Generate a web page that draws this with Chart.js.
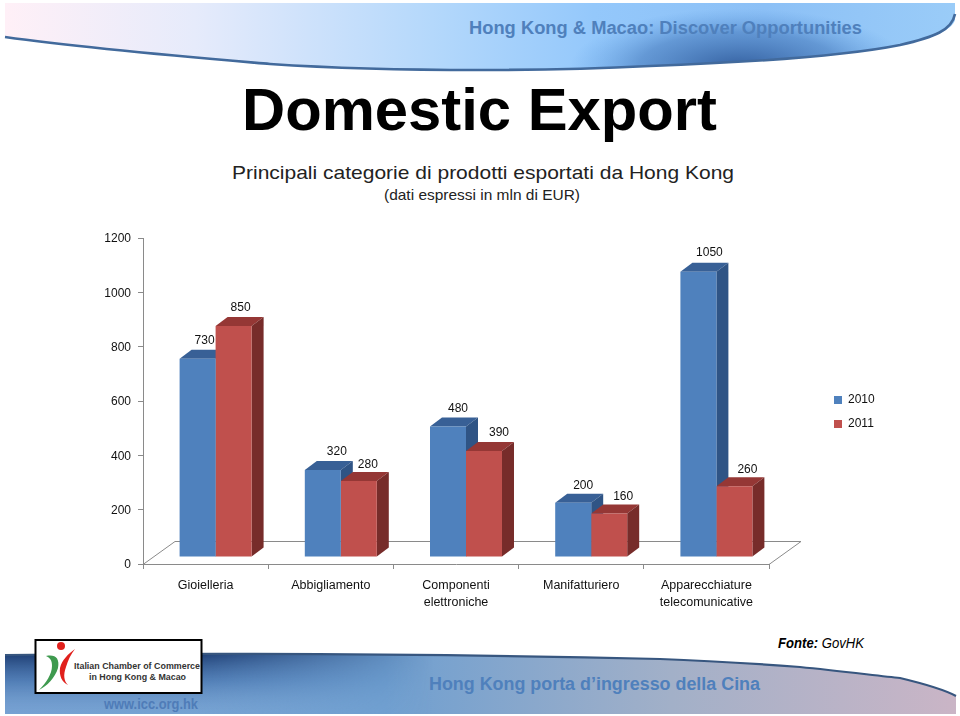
<!DOCTYPE html>
<html><head><meta charset="utf-8">
<script src="https://cdn.jsdelivr.net/npm/chart.js@4/dist/chart.umd.min.js"></script>
<style>
html,body{margin:0;padding:0;background:#fff;width:960px;height:716px;overflow:hidden}
#wrap{position:relative;width:960px;height:716px}
svg{position:absolute;left:0;top:0}
#c{position:absolute;left:0;top:0}
text{font-family:"Liberation Sans",Arial,sans-serif}
</style></head><body>
<div id="wrap">
<svg width="960" height="716" viewBox="0 0 960 716">
<defs>
<linearGradient id="hg" x1="0" x2="1" y1="0" y2="0">
<stop offset="0" stop-color="#fff0f7"/><stop offset=".2" stop-color="#e6ebfb"/><stop offset=".45" stop-color="#b4d8fb"/><stop offset=".62" stop-color="#94c8fb"/><stop offset=".8" stop-color="#8cc0f6"/><stop offset="1" stop-color="#9accf8"/>
</linearGradient>
<radialGradient id="hs" gradientUnits="userSpaceOnUse" cx="740" cy="68" r="170" gradientTransform="translate(0 44) scale(1 .35)">
<stop offset="0" stop-color="#2f5a9a" stop-opacity=".95"/><stop offset=".6" stop-color="#3f74b8" stop-opacity=".55"/><stop offset="1" stop-color="#5a9ae0" stop-opacity="0"/>
</radialGradient>
<linearGradient id="fg" x1="0" x2="1" y1="0" y2="0">
<stop offset="0" stop-color="#6f9ccf"/><stop offset=".4" stop-color="#6f9fd0"/><stop offset=".7" stop-color="#a2b0c8"/><stop offset="1" stop-color="#cab5c6"/>
</linearGradient>
<linearGradient id="fd" x1="0" x2="0" y1="0" y2="1">
<stop offset="0" stop-color="#1b3a70" stop-opacity=".95"/><stop offset=".45" stop-color="#3e6aa5" stop-opacity=".6"/><stop offset="1" stop-color="#8fb4de" stop-opacity=".25"/>
</linearGradient>
<linearGradient id="fm" x1="0" x2="1" y1="0" y2="0">
<stop offset="0" stop-color="#fff"/><stop offset=".2" stop-color="#fff"/><stop offset=".45" stop-color="#000"/>
</linearGradient>
<mask id="fmask" maskUnits="userSpaceOnUse" x="0" y="640" width="960" height="76"><rect x="5" y="640" width="951" height="76" fill="url(#fm)"/></mask>
</defs>
<path d="M5 3H955V20C952 30 935 37 900 45C850 55 760 62 650 66C590 69 530 70 480 70C400 70 330 68 270 64C200 58 90 49 5 37Z" fill="url(#hg)"/>
<path d="M5 3H955V20C952 30 935 37 900 45C850 55 760 62 650 66C590 69 530 70 480 70C400 70 330 68 270 64C200 58 90 49 5 37Z" fill="url(#hs)"/>
<path d="M5 37C90 49 200 58 270 64C330 68 400 70 480 70C530 70 590 69 650 66C760 62 850 55 900 45C935 37 952 30 955 14" fill="none" stroke="#426a9c" stroke-width="2.6"/>
<text x="469" y="34" font-size="18" font-weight="bold" fill="#4f80bc" textLength="393" lengthAdjust="spacingAndGlyphs">Hong Kong &amp; Macao: Discover Opportunities</text>

<text x="242" y="130" font-size="60" font-weight="bold" fill="#000" textLength="475" lengthAdjust="spacingAndGlyphs">Domestic Export</text>
<text x="232" y="179" font-size="19" fill="#222" textLength="502" lengthAdjust="spacingAndGlyphs">Principali categorie di prodotti esportati da Hong Kong</text>
<text x="384" y="200" font-size="14.5" fill="#222" textLength="196" lengthAdjust="spacingAndGlyphs">(dati espressi in mln di EUR)</text>

<path d="M5 655C200 653 450 654 660 659C720 661 760 664 800 667C840 671 880 676 900 678C925 684 945 690 956 696V714H5Z" fill="url(#fg)"/>
<path d="M5 655C200 653 450 654 660 659C720 661 760 664 800 667C840 671 880 676 900 678C925 684 945 690 956 696V714H5Z" fill="url(#fd)" mask="url(#fmask)"/>
<path d="M5 655C200 653 450 654 660 659C720 661 760 664 800 667C840 671 880 676 900 678C925 684 945 690 956 696" fill="none" stroke="#37567f" stroke-width="2.2"/>
<text x="429" y="690" font-size="18" font-weight="bold" fill="#4f80bc" textLength="331" lengthAdjust="spacingAndGlyphs">Hong Kong porta d’ingresso della Cina</text>
<text x="104" y="709" font-size="14" font-weight="bold" fill="#4f7cb8" textLength="94" lengthAdjust="spacingAndGlyphs">www.icc.org.hk</text>
<text x="778" y="648" font-size="14" fill="#000" font-style="italic" textLength="86" lengthAdjust="spacingAndGlyphs"><tspan font-weight="bold">Fonte:</tspan> GovHK</text>

<rect x="35.5" y="640" width="166" height="53" fill="#fff" stroke="#000" stroke-width="2"/>
<circle cx="61" cy="646" r="4" fill="#e0201c"/>
<path d="M46 656C55 654 60 658 58 668C55 678 47 686 39 690C46 683 52 674 52 666C52 660 50 658 46 656Z" fill="#3f9a4f"/>
<path d="M75 649C68 654 62 660 60 668C59 676 62 682 68 685C64 681 63 675 66 667C68 660 71 654 75 649Z" fill="#e0201c"/>
<text x="74" y="669" font-size="9.5" font-weight="bold" fill="#333" textLength="126" lengthAdjust="spacingAndGlyphs">Italian Chamber of Commerce</text>
<text x="89" y="680" font-size="9.5" font-weight="bold" fill="#333" textLength="97" lengthAdjust="spacingAndGlyphs">in Hong Kong &amp; Macao</text>
</svg>
<canvas id="c" width="960" height="716"></canvas>
</div>
<script>
const categories = ["Gioielleria","Abbigliamento",["Componenti","elettroniche"],"Manifatturiero",["Apparecchiature","telecomunicative"]];
const series2010 = [730,320,480,200,1050];
const series2011 = [850,280,390,160,260];
const yTicksStep = 200;

const COLORS = {blue:"#4f81bd",red:"#c0504d",blueTop:"#386096",blueSide:"#2f5485",redTop:"#953735",redSide:"#772c2a",axis:"#8a8a8a"};
const PLOT = {left:143,top:238,right:769,bottom:564};
const SHIFT = {x:10,y:-7};      // bars stand inside the 3-D floor
const DEPTH = {x:12,y:-9};      // 3-D extrusion
const labelNudge = [[7,7],[14,9],[10,15],[10,14],[11,13]];
const labelRise = [[18,18],[18,16],[18,18],[17,17],[19,17]];

const threeD = {
  id:"threeD",
  beforeDatasetsDraw(chart){
    const c = chart.ctx;
    // floor
    c.save();
    c.strokeStyle = COLORS.axis; c.lineWidth = 1;
    c.beginPath();
    c.moveTo(PLOT.left,PLOT.bottom+.5);
    c.lineTo(PLOT.left+32,PLOT.bottom-22.5);
    c.lineTo(PLOT.right+32,PLOT.bottom-22.5);
    c.lineTo(PLOT.right,PLOT.bottom+.5);
    c.stroke();
    c.restore();
    c.save();
    c.translate(SHIFT.x,SHIFT.y);
    [[0,COLORS.blueTop,COLORS.blueSide],[1,COLORS.redTop,COLORS.redSide]].forEach(([d,top,side])=>{
      chart.getDatasetMeta(d).data.forEach(b=>{
        const l=b.x-b.width/2,r=b.x+b.width/2,t=b.y,bt=b.base;
        c.fillStyle=top;
        c.beginPath();c.moveTo(l,t);c.lineTo(l+DEPTH.x,t+DEPTH.y);c.lineTo(r+DEPTH.x,t+DEPTH.y);c.lineTo(r,t);c.closePath();c.fill();
        c.fillStyle=side;
        c.beginPath();c.moveTo(r,t);c.lineTo(r+DEPTH.x,t+DEPTH.y);c.lineTo(r+DEPTH.x,bt+DEPTH.y);c.lineTo(r,bt);c.closePath();c.fill();
      });
    });
  },
  afterDatasetsDraw(chart){
    const c = chart.ctx;
    c.restore();
    c.save();
    c.font='12px "Liberation Sans"';c.fillStyle="#111";c.textAlign="center";c.textBaseline="middle";
    [0,1].forEach(d=>{
      const vals = chart.data.datasets[d].data;
      chart.getDatasetMeta(d).data.forEach((b,i)=>{
        c.fillText(String(vals[i]),b.x+SHIFT.x+labelNudge[i][d],b.y+SHIFT.y-labelRise[i][d]);
      });
    });
    c.restore();
  },
  afterLayout(chart){
    const L = chart.legend;
    const p = L.options.labels.padding;
    L.left = 834-p; L.right = 960; L.top = 394-p; L.bottom = 470;
    L.width = L.right-L.left; L.height = L.bottom-L.top;
  }
};

new Chart(document.getElementById("c"),{
  type:"bar",
  data:{labels:categories,datasets:[
    {label:"2010",data:series2010,backgroundColor:COLORS.blue,borderWidth:0},
    {label:"2011",data:series2011,backgroundColor:COLORS.red,borderWidth:0}
  ]},
  plugins:[threeD],
  options:{
    responsive:false,animation:false,
    layout:{padding:{left:0,top:PLOT.top,right:960-PLOT.right,bottom:0}},
    datasets:{bar:{barPercentage:1,categoryPercentage:.575,clip:false}},
    plugins:{
      tooltip:{enabled:false},
      title:{display:false},
      legend:{display:true,position:"chartArea",align:"start",
        labels:{boxWidth:8,boxHeight:8,padding:12,color:"#111",font:{family:'"Liberation Sans"',size:12}}}
    },
    scales:{
      x:{
        afterFit(s){s.height=716-PLOT.bottom;},
        grid:{display:true,drawOnChartArea:false,drawTicks:true,tickLength:5,color:COLORS.axis,offset:true},
        border:{display:true,color:COLORS.axis},
        ticks:{color:"#111",padding:8,maxRotation:0,autoSkip:false,font:{family:'"Liberation Sans"',size:12.5,lineHeight:1.35}}
      },
      y:{
        min:0,max:1200,
        afterFit(s){s.width=PLOT.left;},
        grid:{display:true,drawOnChartArea:false,drawTicks:true,tickLength:5,color:COLORS.axis},
        border:{display:true,color:COLORS.axis},
        ticks:{stepSize:yTicksStep,color:"#111",padding:7,labelOffset:1,callback:v=>String(v),font:{family:'"Liberation Sans"',size:12}}
      }
    }
  }
});
</script>
</body></html>
